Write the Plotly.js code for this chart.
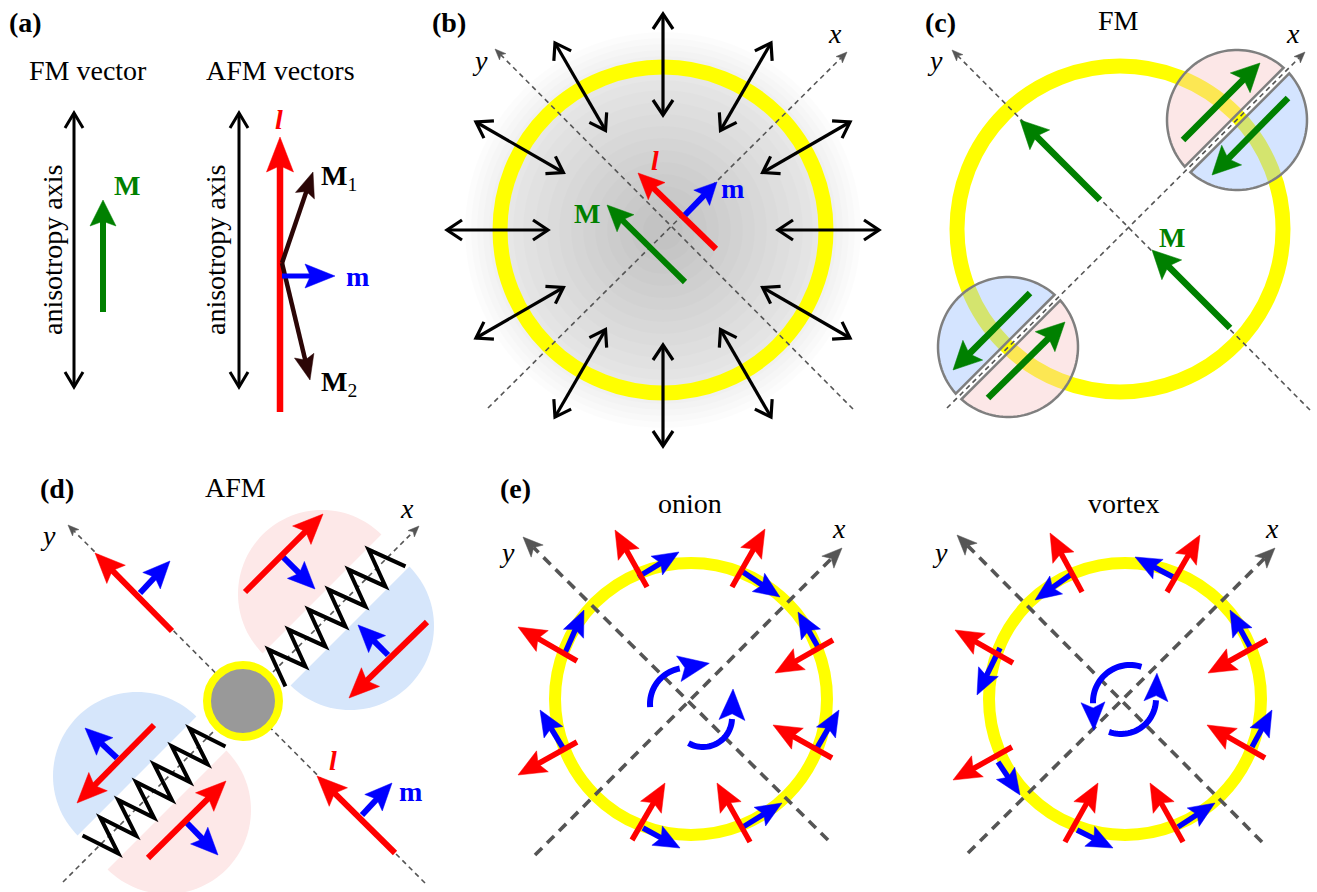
<!DOCTYPE html>
<html><head><meta charset="utf-8">
<script src="https://cdn.plot.ly/plotly-3.0.1.min.js"></script>
<style>html,body{margin:0;padding:0;background:#fff}#chart{width:1317px;height:892px}</style>
</head><body><div id="chart"></div>
<script>
// ================= DATA (page-pixel coordinates of the schematic) =================
const panelLabels = ['(a)','(b)','(c)','(d)','(e)'];
const panelLabelX = [25,449,940,57,515];
const panelLabelY = [22,22,22,488,488];
const titleTexts = ['FM vector','AFM vectors','FM','AFM','onion','vortex'];
const titleX = [88,280,1118,235,690,1124];
const titleY = [70,70,20,487,503,503];

// (a)
const aAxisArrows = [[74,388,74,112],[239,388,239,112]];
const aAxisLabelX = [52,215];
const aAxisLabelY = [250,250];
const aGreenM = [103,312,103,200];
const aRedL = [280,412,280,137];
const aM1 = [282,263,313,172];
const aM2 = [282,263,310,380];
const aBlueM = [282,276,335,276];
const aLabels = ['<b>M</b>','<b><i>l</i></b>','<b>M</b><sub>1</sub>','<b>M</b><sub>2</sub>','<b>m</b>'];
const aLabelX = [127,279,339,339,357];
const aLabelY = [185,119,177,383,276];
const aLabelColor = ['#008000','#ff0000','#000000','#000000','#0000ff'];

// (b)
const bCenter = [663,230];
const bRingR = 163;
const bRadialAngles = [0,30,60,90,120,150,180,210,240,270,300,330];
const bRadialInner = 114;
const bRadialOuter = 217;
const bGlowRadii = [198,192,186,180,174,168,162,156,150,140,128,116,104,92,80,68,56,44,32,20];
const bGreenM = [685,282,607,205];
const bRedL = [716,249,638,173];
const bBlueM = [685,215,717,182];
const bLabels = ['<b>M</b>','<b><i>l</i></b>','<b>m</b>'];
const bLabelX = [587,655,732];
const bLabelY = [213,160,188];
const bLabelColor = ['#008000','#ff0000','#0000ff'];

// (c)
const cCenter = [1120,229];
const cRingR = 163;
const cGreen = [[1100,200,1020,120],[1230,328,1152,250]];
const cDomainCenters = [[1237,120],[1008,347]];
const cDomainR = 70;
const cDomainUpperColor = ['pink','blue'];
const cDomainArrows = [[1183,140,1260,63],[1288,98,1212,175],[1030,293,953,370],[988,398,1065,322]];
const cLabelM = [1172,237];

// (d)
const dCenter = [243,701];
const dHalfMids = [[322,594],[350,626],[137,776],[167,810]];
const dHalfFacing = [[-1,-1],[1,1],[-1,-1],[1,1]];
const dHalfColor = ['pink','blue','blue','pink'];
const dHalfR = 84;
const dSprings = [[272,673,392,553],[212,733,96,849]];
const dSpringHalfCycles = [12,13];
const dSpringStartSign = [1,-1];
const dRed = [[245,592,323,514],[427,622,349,698],[154,725,77,803],[148,858,226,781],[172,631,95,553],[395,853,317,776]];
const dBlue = [[283,557,315,589],[388,655,358,625],[117,758,85,728],[187,823,218,855],[140,593,170,561],[362,815,392,783]];
const dLabels = ['<b><i>l</i></b>','<b>m</b>'];
const dLabelX = [333,410];
const dLabelY = [760,791];
const dLabelColor = ['#ff0000','#0000ff'];

// (e)
const eCenters = [[691,699],[1125,699]];
const eRingR = 136;
const onionRed = [[647,587,615,530],[732,587,765,529],[833,640,775,673],[832,758,773,725],[750,842,717,783],[632,840,665,783],[577,742,518,775],[577,661,518,627]];
const onionBlue = [[638,577,679,552],[743,572,780,597],[818,647,798,612],[817,748,839,710],[743,827,782,803],[643,828,680,848],[563,748,540,710],[565,653,584,610]];
const vortexRed = [[1082,592,1050,533],[1167,592,1200,535],[1267,640,1208,673],[1265,758,1207,725],[1183,842,1150,783],[1065,842,1098,783],[1012,747,953,780],[1013,663,955,630]];
const vortexBlue = [[1073,573,1035,600],[1173,577,1135,557],[1250,647,1230,610],[1252,747,1272,710],[1178,827,1215,803],[1077,830,1113,848],[998,762,1020,795],[1000,648,977,695]];
// curved arrows: [cx, cy, r, startDeg, endDeg]
const onionCurls = [[686,704,36,185,100],[703,718,29,240,358]];
const vortexCurls = [[1130,702,37,72,182],[1121,699,35,250,358]];

// axes (x then y) per panel
const axesThin = [
  [488,408,847,52],[853,409,495,49],      // b
  [947,408,1305,52],[1310,410,952,50],    // c
  [63,882,419,526],[425,883,68,525]       // d
];
const axesThick = [
  [535,855,842,548],[828,840,523,537],    // onion
  [968,853,1275,548],[1262,842,957,535]   // vortex
];
const axisLetters = ['<i>x</i>','<i>y</i>','<i>x</i>','<i>y</i>','<i>x</i>','<i>y</i>','<i>x</i>','<i>y</i>','<i>x</i>','<i>y</i>'];
const axisLetterX = [835,480,1293,935,407,48,839,507,1272,940];
const axisLetterY = [33,60,33,60,508,535,528,552,528,552];

// ================= STYLE =================
const FONT = '"Liberation Serif", "Times New Roman", Times, serif';
const RED = '#ff0000', BLUE = '#0000ff', GREEN = '#008000', DARK = '#2b0606';
const YELLOW = '#ffff00', AXIS = '#555555';
const PINK_SOLID = '#fde8e8', BLUE_SOLID = '#d6e6fb';
const PINK_T = 'rgba(247,197,197,0.42)', BLUE_T = 'rgba(155,192,255,0.43)';

// ================= HELPERS =================
const shapes = [];
const ann = [];
function unit(x0,y0,x1,y1){const dx=x1-x0, dy=y1-y0, L=Math.hypot(dx,dy)||1; return [dx/L, dy/L];}
function line(x0,y0,x1,y1,color,w,dash){
  shapes.push({type:'line',xref:'x',yref:'y',x0:x0,y0:y0,x1:x1,y1:y1,line:{color:color,width:w,dash:dash||'solid'}});
}
function poly(pts,fill,lineColor,lw,closed){
  let p='M'+pts.map(q=>q[0].toFixed(2)+','+q[1].toFixed(2)).join('L');
  if(closed) p+='Z';
  shapes.push({type:'path',xref:'x',yref:'y',path:p,fillcolor:fill||'rgba(0,0,0,0)',
    line:{color:lineColor||'rgba(0,0,0,0)',width:lw||0}});
}
function head(tx,ty,ux,uy,hl,hw,color,notch){
  const nx=-uy, ny=ux;
  const bx=tx-ux*hl, by=ty-uy*hl;
  const nt=(notch===undefined)?0.18:notch;
  const mx=tx-ux*hl*(1-nt), my=ty-uy*hl*(1-nt);
  poly([[tx,ty],[bx+nx*hw,by+ny*hw],[mx,my],[bx-nx*hw,by-ny*hw]],color,color,0.5,true);
  return [mx,my];
}
function arrow(a,color,w,hl,hw,notch){
  const [x0,y0,x1,y1]=a;
  const [ux,uy]=unit(x0,y0,x1,y1);
  const nt=(notch===undefined)?0.18:notch;
  const ex=x1-ux*hl*(1-nt)+ux*1.5, ey=y1-uy*hl*(1-nt)+uy*1.5;
  line(x0,y0,ex,ey,color,w);
  head(x1,y1,ux,uy,hl,hw,color,nt);
}
function chevron(tx,ty,ux,uy,hl,hw,color,w){
  const nx=-uy, ny=ux;
  poly([[tx-ux*hl+nx*hw,ty-uy*hl+ny*hw],[tx,ty],[tx-ux*hl-nx*hw,ty-uy*hl-ny*hw]],null,color,w,false);
}
function dblArrow(a,color,w,hl,hw){
  const [x0,y0,x1,y1]=a;
  const [ux,uy]=unit(x0,y0,x1,y1);
  line(x0+ux*1,y0+uy*1,x1-ux*1,y1-uy*1,color,w);
  chevron(x1-ux*1,y1-uy*1,ux,uy,hl,hw,color,w);
  chevron(x0+ux*1,y0+uy*1,-ux,-uy,hl,hw,color,w);
}
function dashedAxis(a,color,w,dash,hl,hw){
  const [x0,y0,x1,y1]=a;
  const [ux,uy]=unit(x0,y0,x1,y1);
  line(x0,y0,x1-ux*hl*0.75,y1-uy*hl*0.75,color,w,dash);
  head(x1,y1,ux,uy,hl,hw,color,0.25);
}
function ring(cx,cy,r,color,w,fill){
  shapes.push({type:'circle',xref:'x',yref:'y',x0:cx-r,y0:cy-r,x1:cx+r,y1:cy+r,
    line:{color:color,width:w},fillcolor:fill||'rgba(0,0,0,0)'});
}
function halfDisc(cx,cy,r,nx,ny,gap,fill,lineColor,lw){
  const phi=Math.atan2(ny,nx);
  const beta=Math.acos(gap/r);
  const pts=[];
  for(let i=0;i<=60;i++){const t=phi-beta+2*beta*i/60; pts.push([cx+r*Math.cos(t), cy+r*Math.sin(t)]);}
  poly(pts,fill,lineColor,lw,true);
}
function spring(s,m,sign,amp,color,w){
  const [sx,sy,ex,ey]=s;
  const [ux,uy]=unit(sx,sy,ex,ey);
  const nx=-uy, ny=ux;
  const L=Math.hypot(ex-sx,ey-sy);
  const pts=[];
  for(let k=0;k<=m;k++){
    const d=L*k/m;
    const off=sign*((k%2===0)?amp:-amp);
    pts.push([sx+ux*d+nx*off, sy+uy*d+ny*off]);
  }
  poly(pts,null,color,w,false);
}
function curl(c,color,w,hl,hw){
  const [cx,cy,r,a0,a1]=c;
  const pts=[];
  const n=30;
  for(let i=0;i<=n;i++){
    const t=(a0+(a1-a0)*i/n)*Math.PI/180;
    pts.push([cx+r*Math.cos(t), cy-r*Math.sin(t)]);
  }
  poly(pts,null,color,w,false);
  const te=a1*Math.PI/180;
  const s=(a1>a0)?1:-1;
  const ux=-Math.sin(te)*s, uy=-Math.cos(te)*s;
  const bx=pts[n][0]-ux*1, by=pts[n][1]-uy*1;
  head(bx+ux*hl,by+uy*hl,ux,uy,hl,hw,color,0.2);
}
function txt(x,y,text,color,extra){
  ann.push(Object.assign({x:x,y:y,xref:'x',yref:'y',text:text,showarrow:false,
    xanchor:'center',yanchor:'middle',font:{family:FONT,size:28,color:color||'#000'}},extra||{}));
}

// ================= PANEL (a) =================
aAxisArrows.forEach(a=>dblArrow(a,'#000',3,15,9));
arrow(aGreenM,GREEN,6,26,13);
arrow(aRedL,RED,6.5,35,13.5);
arrow(aM1,DARK,4.5,25,10);
arrow(aM2,DARK,4.5,25,10);
arrow(aBlueM,BLUE,5,30,12);

// ================= PANEL (b) =================
bGlowRadii.forEach(r=>ring(bCenter[0],bCenter[1],r,'rgba(0,0,0,0)',0,'rgba(0,0,0,0.0135)'));
ring(bCenter[0],bCenter[1],bRingR,YELLOW,15);
dashedAxis(axesThin[0],AXIS,1.6,'5px,4px',11,4.5);
dashedAxis(axesThin[1],AXIS,1.6,'5px,4px',11,4.5);
bRadialAngles.forEach(d=>{
  const t=d*Math.PI/180;
  dblArrow([bCenter[0]+bRadialInner*Math.cos(t), bCenter[1]-bRadialInner*Math.sin(t),
            bCenter[0]+bRadialOuter*Math.cos(t), bCenter[1]-bRadialOuter*Math.sin(t)],'#000',3.2,15,10);
});
arrow(bGreenM,GREEN,6,26,12);
arrow(bRedL,RED,6,26,12);
arrow(bBlueM,BLUE,6,22,11);

// ================= PANEL (c) =================
ring(cCenter[0],cCenter[1],cRingR,YELLOW,15);
dashedAxis(axesThin[2],AXIS,1.6,'5px,4px',11,4.5);
dashedAxis(axesThin[3],AXIS,1.6,'5px,4px',11,4.5);
cGreen.forEach(a=>arrow(a,GREEN,6.5,28,14));
cDomainCenters.forEach((c,i)=>{
  const up=cDomainUpperColor[i]==='pink'?PINK_T:BLUE_T;
  const dn=cDomainUpperColor[i]==='pink'?BLUE_T:PINK_T;
  halfDisc(c[0],c[1],cDomainR,-1,-1,4,up,'#7f7f7f',2.5);
  halfDisc(c[0],c[1],cDomainR,1,1,4,dn,'#7f7f7f',2.5);
});
cDomainArrows.forEach(a=>arrow(a,GREEN,6.5,28,14));

// ================= PANEL (d) =================
dHalfMids.forEach((m,i)=>{
  const f=dHalfFacing[i]; const L=Math.hypot(f[0],f[1]);
  halfDisc(m[0],m[1],dHalfR,f[0]/L,f[1]/L,0,dHalfColor[i]==='pink'?PINK_SOLID:BLUE_SOLID,null,0);
});
dashedAxis(axesThin[4],AXIS,1.6,'5px,4px',11,4.5);
dashedAxis(axesThin[5],AXIS,1.6,'5px,4px',11,4.5);
dSprings.forEach((s,i)=>spring(s,dSpringHalfCycles[i],dSpringStartSign[i],19,'#000',4));
ring(dCenter[0],dCenter[1],36,YELLOW,8,'#999999');
dBlue.forEach(a=>arrow(a,BLUE,6,27,12));
dRed.forEach(a=>arrow(a,RED,6,30,13));

// ================= PANEL (e) =================
eCenters.forEach(c=>ring(c[0],c[1],eRingR,YELLOW,12));
axesThick.forEach(a=>dashedAxis(a,AXIS,3.6,'10px,7px',20,8.5));
onionBlue.forEach(a=>arrow(a,BLUE,5.5,26,11));
onionRed.forEach(a=>arrow(a,RED,5.5,28,12));
vortexBlue.forEach(a=>arrow(a,BLUE,5.5,26,11));
vortexRed.forEach(a=>arrow(a,RED,5.5,28,12));
onionCurls.forEach(c=>curl(c,BLUE,6,31,13));
vortexCurls.forEach(c=>curl(c,BLUE,6,28,12));

// ================= TEXT =================
panelLabels.forEach((t,i)=>txt(panelLabelX[i],panelLabelY[i],'<b>'+t+'</b>','#000'));
titleTexts.forEach((t,i)=>txt(titleX[i],titleY[i],t,'#000'));
aAxisLabelX.forEach((x,i)=>txt(x,aAxisLabelY[i],'anisotropy axis','#000',{textangle:-90}));
aLabels.forEach((t,i)=>txt(aLabelX[i],aLabelY[i],t,aLabelColor[i]));
bLabels.forEach((t,i)=>txt(bLabelX[i],bLabelY[i],t,bLabelColor[i]));
txt(cLabelM[0],cLabelM[1],'<b>M</b>',GREEN);
dLabels.forEach((t,i)=>txt(dLabelX[i],dLabelY[i],t,dLabelColor[i]));
axisLetters.forEach((t,i)=>txt(axisLetterX[i],axisLetterY[i],t,'#000'));

// ================= PLOT =================
const data=[{x:[bCenter[0]],y:[bCenter[1]],type:'scatter',mode:'markers',marker:{size:1,opacity:0},hoverinfo:'skip',showlegend:false}];
const layout={width:1317,height:892,margin:{l:0,r:0,t:0,b:0,pad:0},
  paper_bgcolor:'#ffffff',plot_bgcolor:'#ffffff',showlegend:false,
  font:{family:FONT,size:28,color:'#000'},
  xaxis:{range:[0,1317],visible:false,fixedrange:true,showgrid:false,zeroline:false},
  yaxis:{range:[892,0],visible:false,fixedrange:true,showgrid:false,zeroline:false},
  shapes:shapes,annotations:ann};
Plotly.newPlot('chart',data,layout,{staticPlot:true,displayModeBar:false});
</script>
</body></html>
